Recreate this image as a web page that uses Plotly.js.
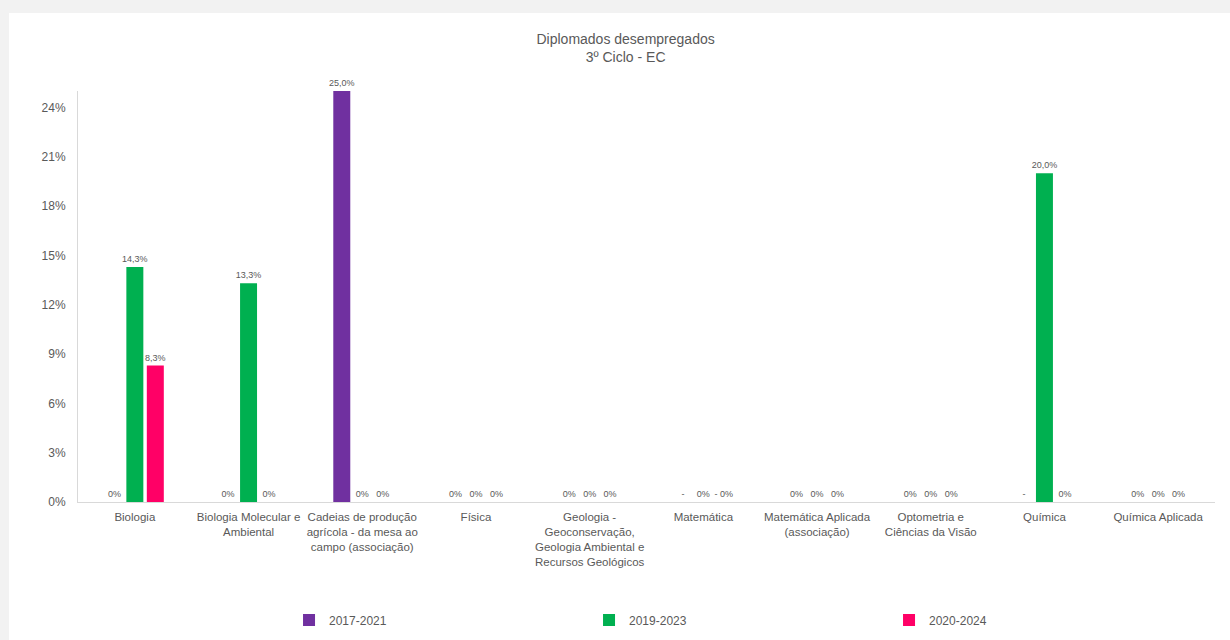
<!DOCTYPE html>
<html>
<head>
<meta charset="utf-8">
<script src="https://cdn.plot.ly/plotly-3.0.1.min.js"></script>
<style>
html,body{margin:0;padding:0;background:#f2f2f2;width:1230px;height:640px;overflow:hidden;}
#chart{position:absolute;left:9px;top:13px;width:1221px;height:627px;background:#fff;}
</style>
</head>
<body>
<div id="chart"></div>
<script>
const categories = [
  "Biologia",
  "Biologia Molecular e<br>Ambiental",
  "Cadeias de produção<br>agrícola - da mesa ao<br>campo (associação)",
  "Física",
  "Geologia -<br>Geoconservação,<br>Geologia Ambiental e<br>Recursos Geológicos",
  "Matemática",
  "Matemática Aplicada<br>(associação)",
  "Optometria e<br>Ciências da Visão",
  "Química",
  "Química Aplicada"
];
const seriesNames = ["2017-2021", "2019-2023", "2020-2024"];
const seriesColors = ["#7030a0", "#00b050", "#ff0066"];
// null = no value ("-")
const v2017 = [0, 0, 0.25, 0, 0, null, 0, 0, null, 0];
const v2019 = [0.143, 0.133, 0, 0, 0, 0, 0, 0, 0.20, 0];
const v2020 = [0.083, 0, 0, 0, 0, 0, 0, 0, 0, 0];
const lbl2017 = ["0%", "0%", "25,0%", "0%", "0%", "-", "0%", "0%", "-", "0%"];
const lbl2019 = ["14,3%", "13,3%", "0%", "0%", "0%", "0%", "0%", "0%", "20,0%", "0%"];
const lbl2020 = ["8,3%", "0%", "0%", "0%", "0%", "- 0%", "0%", "0%", "0%", "0%"];

const values = [v2017, v2019, v2020];
const labels = [lbl2017, lbl2019, lbl2020];
const fontFam = '"Liberation Sans", Arial, sans-serif';

const traces = seriesNames.map((name, i) => ({
  type: 'bar',
  name: name,
  x: categories,
  y: values[i].map(v => v === null ? 0 : v),
  text: labels[i],
  textposition: 'outside',
  constraintext: 'none',
  textfont: {family: fontFam, size: 9, color: '#595959'},
  cliponaxis: false,
  marker: {color: seriesColors[i]},
  hoverinfo: 'x+y+name'
}));

const layout = {
  width: 1221, height: 627,
  margin: {l: 69, r: 15, t: 78, b: 138},
  paper_bgcolor: '#ffffff',
  plot_bgcolor: '#ffffff',
  separators: ', ',
  barmode: 'group',
  bargap: 0.46,
  bargroupgap: 0.17,
  font: {family: fontFam, size: 12, color: '#595959'},
  title: {
    text: 'Diplomados desempregados<br>3º Ciclo - EC',
    font: {family: fontFam, size: 14, color: '#595959'},
    x: 0.505, xanchor: 'center', y: 0.951, yanchor: 'top'
  },
  xaxis: {
    type: 'category',
    showline: true, linecolor: '#d9d9d9', linewidth: 1,
    ticks: 'outside', ticklen: 4, tickcolor: 'rgba(0,0,0,0)',
    showgrid: false, zeroline: false,
    tickangle: 0, automargin: false,
    tickfont: {family: fontFam, size: 11.5, color: '#595959'}
  },
  yaxis: {
    range: [0, 0.25],
    dtick: 0.03, tick0: 0,
    tickformat: '.0%',
    showline: true, linecolor: '#d9d9d9', linewidth: 1,
    showgrid: false, zeroline: false, ticks: 'outside',
    ticklen: 9, tickcolor: 'rgba(0,0,0,0)', automargin: false,
    tickfont: {family: fontFam, size: 12, color: '#595959'}
  },
  showlegend: true,
  legend: {
    orientation: 'h',
    x: 0.1856, xanchor: 'left',
    yref: 'container',
    y: 0.032, yanchor: 'middle',
    entrywidth: 255, entrywidthmode: 'pixels',
    itemwidth: 30,
    font: {family: fontFam, size: 12, color: '#595959'},
    traceorder: 'normal'
  }
};

Plotly.newPlot('chart', traces, layout, {displayModeBar: false});
</script>
</body>
</html>
